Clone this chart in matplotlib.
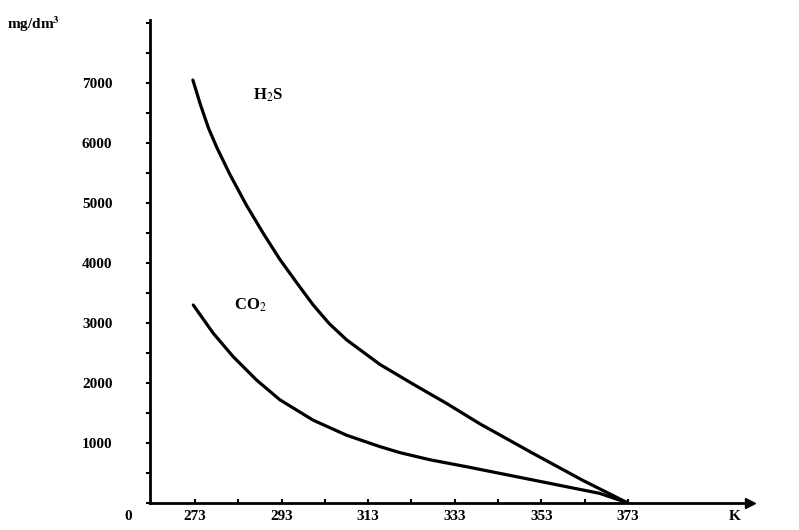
import matplotlib
matplotlib.use("Agg")
import matplotlib.pyplot as plt
from matplotlib.ticker import FixedLocator, MultipleLocator

# temperature (K) and solubility (mg/dm^3)
t_h2s = [272.5, 274.2, 276.1, 278.0, 281.1, 284.9, 288.8, 292.6, 296.5, 300.3,
         304.0, 308.0, 315.7, 323.4, 331.1, 338.8, 351.0, 362.5, 373.0]
h2s = [7050, 6650, 6250, 5930, 5470, 4960, 4490, 4060, 3670, 3300,
       2990, 2720, 2310, 1980, 1660, 1320, 830, 380, 0]

t_co2 = [272.6, 277.2, 281.8, 287.2, 292.6, 300.3, 308.0, 315.7, 320.3,
         327.3, 335.7, 351.1, 366.5, 373.0]
co2 = [3300, 2830, 2440, 2050, 1720, 1380, 1130, 940, 840,
       720, 605, 383, 160, 0]

x_ticks = [273, 293, 313, 333, 353, 373]
y_ticks = [1000, 2000, 3000, 4000, 5000, 6000, 7000]

plt.rcParams["font.family"] = ["Liberation Serif", "DejaVu Serif"]
plt.rcParams["mathtext.fontset"] = "stix"

W, H = 799, 530
fig = plt.figure(figsize=(W / 100, H / 100), dpi=100)
ax = fig.add_axes([150 / W, (H - 503) / H, 600 / W, 483 / H])

ax.plot(t_h2s, h2s, color="black", lw=2.3, solid_capstyle="round", solid_joinstyle="round")
ax.plot(t_co2, co2, color="black", lw=2.3, solid_capstyle="round", solid_joinstyle="round")

ax.set_xlim(262.6, 401.2)
ax.set_ylim(0, 8050)

for side in ("top", "right"):
    ax.spines[side].set_visible(False)
for side in ("left", "bottom"):
    ax.spines[side].set_linewidth(2.0)

# arrow heads on the axes
ax.plot(1, 0, ">k", ms=7, transform=ax.get_yaxis_transform(), clip_on=False)
ax.plot(0, 1, "^k", ms=7, transform=ax.get_xaxis_transform(), clip_on=False)

ax.xaxis.set_major_locator(FixedLocator(x_ticks))
ax.xaxis.set_minor_locator(FixedLocator(list(range(283, 374, 20))))
ax.yaxis.set_major_locator(FixedLocator(y_ticks))
ax.yaxis.set_minor_locator(MultipleLocator(500))

ax.tick_params(axis="x", which="both", direction="in", length=3, width=1.5, pad=5)
ax.tick_params(axis="y", which="both", direction="out", length=3, width=1.5, pad=24)
ax.tick_params(labelsize=11)
for lab in ax.get_xticklabels() + ax.get_yticklabels():
    lab.set_fontweight("bold")

ax.text(289.9, 6800, "H$_2$S", fontsize=12, fontweight="bold", ha="center", va="center")
ax.text(285.9, 3300, "CO$_2$", fontsize=12, fontweight="bold", ha="center", va="center")

fig.text(128 / W, 1 - 517 / H, "0", fontsize=11, fontweight="bold", ha="center", va="center")
fig.text(735 / W, 1 - 516 / H, "K", fontsize=11, fontweight="bold", ha="center", va="center")
fig.text(7 / W, 1 - 24 / H, r"mg/dm$^{\mathbf{3}}$", fontsize=11, fontweight="bold", ha="left", va="center")

fig.savefig("out.png", dpi=100)
